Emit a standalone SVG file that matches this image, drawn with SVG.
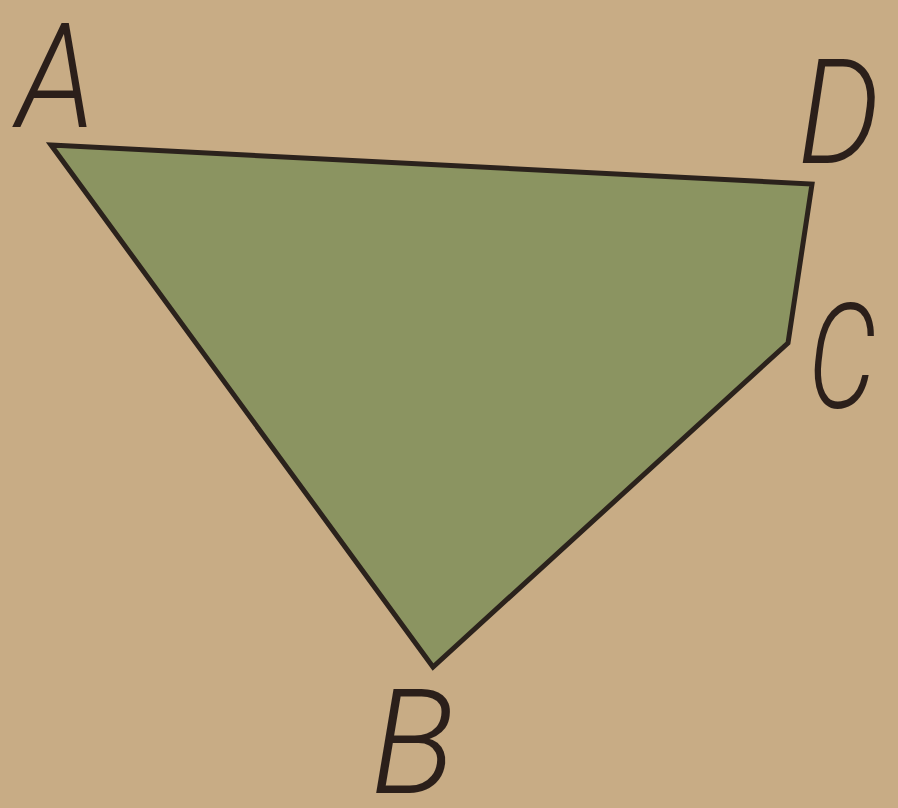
<svg xmlns="http://www.w3.org/2000/svg" width="898" height="808" viewBox="0 0 898 808">
<style>
.lbl{font-family:Roboto,"Liberation Sans","DejaVu Sans",sans-serif;font-style:italic;font-weight:300;font-size:146px;fill:#2b1f1a;text-anchor:middle}
</style>
<rect x="0" y="0" width="898" height="808" fill="#c8ac85"/>
<g id="quad">
<polygon points="51,145 812,184 788,343 433,667" fill="#8b9461" stroke="#2b221c" stroke-width="5" stroke-linejoin="miter"/>
</g>
<g id="labelA"><text class="lbl" x="56" y="127" textLength="78" lengthAdjust="spacingAndGlyphs">A</text></g>
<g id="labelD"><text class="lbl" x="839" y="163" textLength="82" lengthAdjust="spacingAndGlyphs">D</text></g>
<g id="labelC"><text class="lbl" x="842" y="408" textLength="68" lengthAdjust="spacingAndGlyphs">C</text></g>
<g id="labelB"><text class="lbl" x="413" y="793" textLength="84" lengthAdjust="spacingAndGlyphs">B</text></g>
</svg>
